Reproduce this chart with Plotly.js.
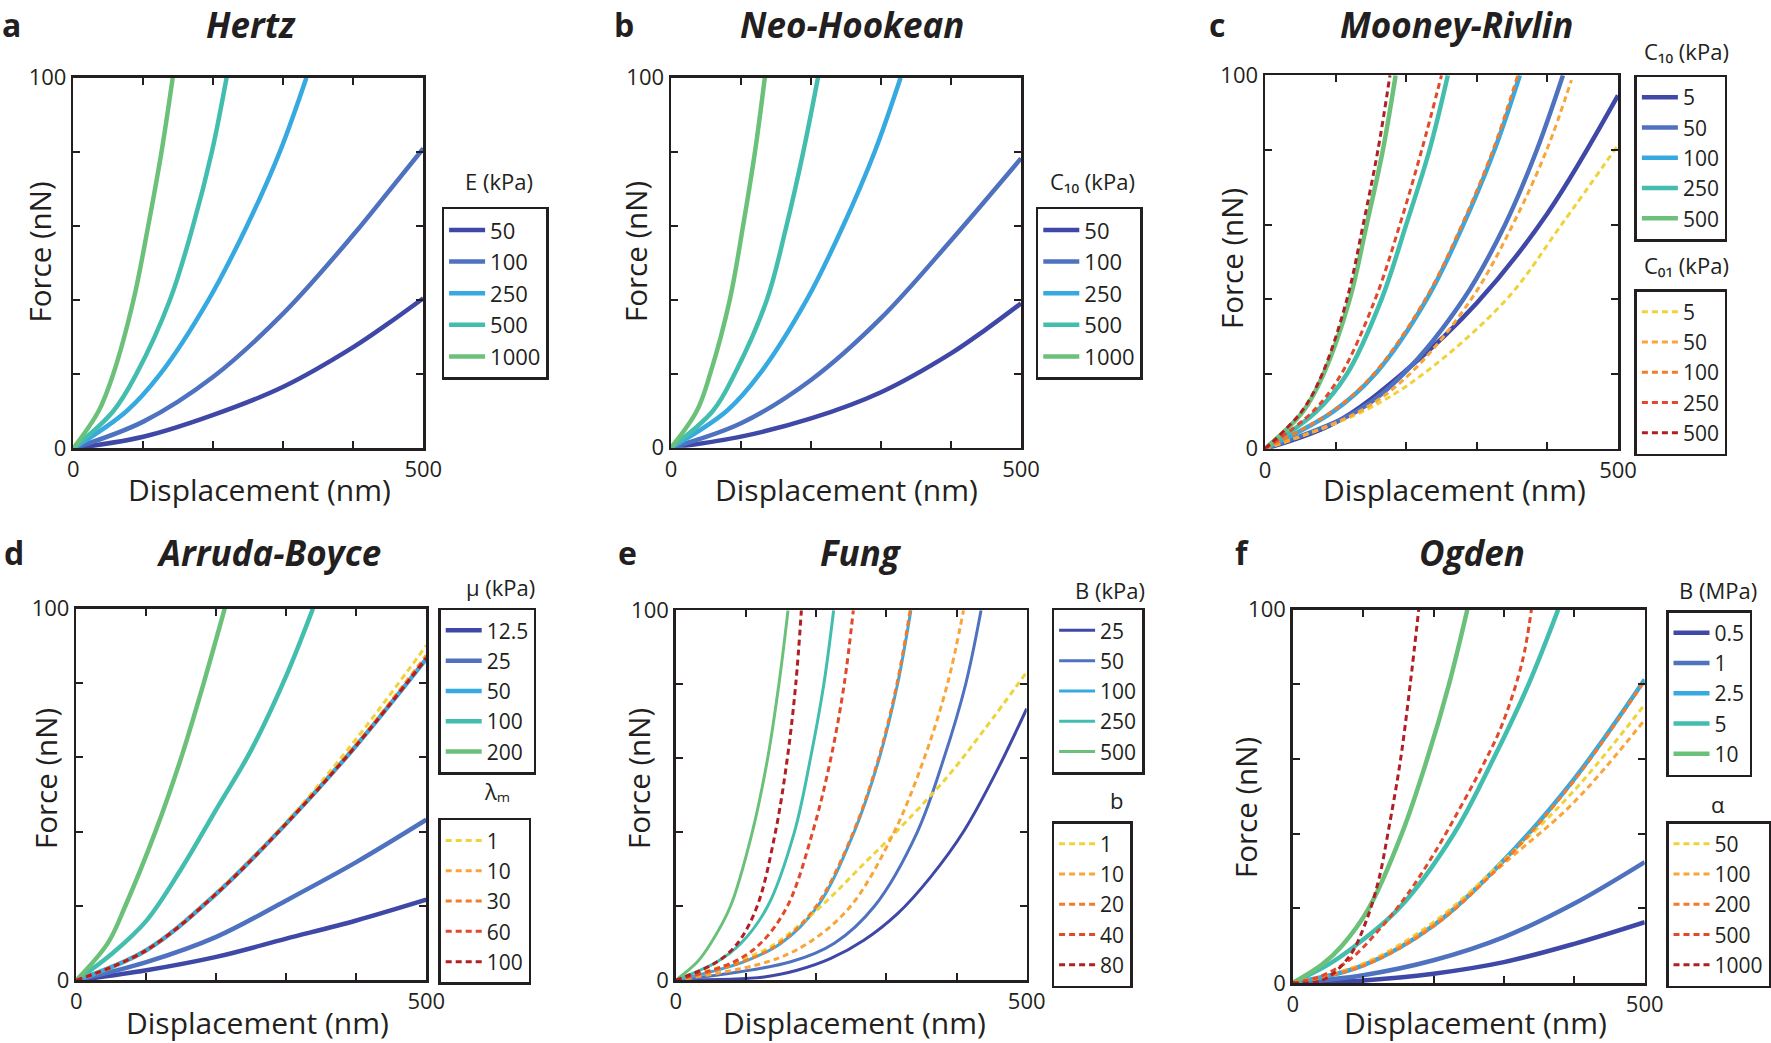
<!DOCTYPE html>
<html><head><meta charset="utf-8">
<script src="https://cdn.plot.ly/plotly-3.0.1.min.js"></script>
<style>html,body{margin:0;padding:0;background:#fff}</style>
</head><body>
<div id="chart" style="width:1771px;height:1043px"></div>
<script>
// ---------------- DATA ----------------
// a: Hertz
const hertzLabels = ['50','100','250','500','1000'];
const hertzX = [[0,100,200,300,400,450,500],[0,100,200,300,400,450,500],[0,76,124,193,248,295,333],[0,57,90,138,171,198,219],[0,36,57,86,107,126,142]];
const hertzY = [[0,3.1,9,16.6,27.3,33.7,40.5],[0,7.2,19.3,36.4,57.6,69.2,80.9],[0,10,20,40,60,80,100],[0,10,20,40,60,80,100],[0,10,20,40,60,80,100]];

// b: Neo-Hookean
const neoLabels = ['50','100','250','500','1000'];
const neoX = [[0,100,200,300,400,450,500],[0,100,200,300,400,450,500],[0,80,127,194,246,291,328],[0,60,91,137,165,189,210],[0,37,56,84,103,120,134]];
const neoY = [[0,3,7.9,15,25.5,32,39],[0,6.6,18.3,35,56,67,78.2],[0,10,20,40,60,80,100],[0,10,20,40,60,80,100],[0,10,20,40,60,80,100]];

// c: Mooney-Rivlin
const mrC10Labels = ['5','50','100','250','500'];
const mrC10X = [[0,100,200,300,400,500],[0,130,196,281,340,385,422],[0,97,156,229,281,325,361],[0,73,116,165,200,233,259],[0,54,83,120,144,167,185]];
const mrC10Y = [[0,7,21,39,63,94.6],[0,10,20,40,60,80,100],[0,10,20,40,60,80,100],[0,10,20,40,60,80,100],[0,10,20,40,60,80,100]];
const mrC01Labels = ['5','50','100','250','500'];
const mrC01X = [[0,139,224,342,420,500],[0,134,205,292,351,399,434],[0,95,154,227,279,323,358],[0,68,108,156,191,222,250],[0,52,81,116,139,160,177]];
const mrC01Y = [[0,10,20,40,60,81.3],[0,10,20,40,60,80,98.7],[0,10,20,40,60,80,100],[0,10,20,40,60,80,100],[0,10,20,40,60,80,100]];

// d: Arruda-Boyce
const abMuLabels = ['12.5','25','50','100','200'];
const abMuX = [[0,100,200,300,400,500],[0,100,200,300,400,500],[0,100,200,300,400,500],[0,50,100,150,200,250,300,338],[0,45,70,113,150,182,212]];
const abMuY = [[0,2.7,6.3,11.2,16.1,21.7],[0,4.9,11.7,21.5,31.8,43.2],[0,8.1,23.3,42.2,63.2,86.5],[0,7,16,30,46,62,82,100],[0,10,20,40,60,80,100]];
const abLmLabels = ['1','10','30','60','100'];
const abLmX = [[0,100,200,300,400,500],[0,100,200,300,400,500],[0,100,200,300,400,500],[0,100,200,300,400,500],[0,100,200,300,400,500]];
const abLmY = [[0,8.1,23.5,42.6,65,90.1],[0,8.1,23.3,42.3,63.5,87.5],[0,8.1,23.3,42.2,63.3,87],[0,8.1,23.3,42.2,63.2,86.8],[0,8.1,23.3,42.2,63.2,86.6]];

// e: Fung
const fungBLabels = ['25','50','100','250','500'];
const fungBX = [[0,126,173,221,268,316,363,411,458,500],[0,164,226,283,344,382,413,435],[0,97,150,202,254,290,316,335],[0,59,93,131,169,192,211,225],[0,31,50,78,109,131,147,160]];
const fungBY = [[0,0.9,2.7,5.9,10.8,18,27.9,40.5,56.8,73.4],[0,5,10,20,40,60,80,100],[0,5,10,20,40,60,80,100],[0,5,10,20,40,60,80,100],[0,5,10,20,40,60,80,100]];
const fungbLabels = ['1','10','20','40','80'];
const fungbX = [[0,126,173,221,268,316,387,439,500],[0,131,188,249,311,354,387,410],[0,95,148,200,253,289,315,334],[0,83,121,159,195,221,240,253],[0,59,88,116,142,159,171,179]];
const fungbY = [[0,8.1,14.4,22.5,31.5,40.5,55,67.6,83.3],[0,5,10,20,40,60,80,100],[0,5,10,20,40,60,80,100],[0,5,10,20,40,60,80,100],[0,5,10,20,40,60,80,100]];

// f: Ogden
const ogBLabels = ['0.5','1','2.5','5','10'];
const ogBX = [[0,100,200,300,400,500],[0,100,200,300,400,500],[0,100,200,300,400,500],[0,51,89,151,229,285,335,377],[0,42,70,108,155,191,222,248]];
const ogBY = [[0,0.7,2.5,5.6,10.5,16.3],[0,2.1,6.1,12.3,21.3,32.4],[0,4.7,15.4,32.9,54.7,81.3],[0,5,10,20,40,60,80,100],[0,5,10,20,40,60,80,100]];
const ogALabels = ['50','100','200','500','1000'];
const ogAX = [[0,100,200,300,400,500],[0,100,200,300,400,500],[0,100,200,300,400,500],[0,37,80,122,160,198,236,269,297,326,339],[0,42,80,103,122,136,153,167,179]];
const ogAY = [[0,5.2,16.3,32.9,51.6,74.6],[0,4.9,15.7,32,48.5,70.5],[0,4.6,15.2,32.5,54.3,81],[0,1.6,6.1,14.1,23,33.8,46.3,57.9,69,86,100],[0,0.7,7,15.9,27.5,40.9,59.6,80.2,100]];

const xTickVals = [0,500];
const xTickText = ['0','500'];
const yTickVals = [0,100];
const yTickText = ['0','100'];

// ---------------- STYLE / LAYOUT ----------------
const W = 1771, H = 1043;
const FONT = "'Open Sans', 'Noto Sans', sans-serif";
const INK = '#231F20';
const coolColors = ['#3F48A6','#4F72C0','#37A9E1','#43BEAE','#6CC17A'];
const warmColors = ['#EFD33A','#F9A53A','#F47B2A','#E2482A','#B11F24'];
const px = v => v / W;
const py = v => 1 - v / H;

const traces = [];
function addSet(ax, legendId, labels, xs, ys, colors, dashed, width) {
  labels.forEach((lab, i) => {
    traces.push({
      type: 'scatter', mode: 'lines',
      x: xs[i], y: ys[i], name: lab,
      xaxis: 'x' + (ax === 1 ? '' : ax), yaxis: 'y' + (ax === 1 ? '' : ax),
      legend: legendId,
      line: {color: colors[i], width: width, shape: 'spline', smoothing: 1, dash: dashed ? '6px,4px' : 'solid'},
      hoverinfo: 'skip'
    });
  });
}
addSet(1, 'legend', hertzLabels, hertzX, hertzY, coolColors, false, 4.5);
addSet(2, 'legend2', neoLabels, neoX, neoY, coolColors, false, 4.5);
addSet(3, 'legend3', mrC10Labels, mrC10X, mrC10Y, coolColors, false, 4.5);
addSet(3, 'legend4', mrC01Labels, mrC01X, mrC01Y, warmColors, true, 3);
addSet(4, 'legend5', abMuLabels, abMuX, abMuY, coolColors, false, 4.5);
addSet(4, 'legend6', abLmLabels, abLmX, abLmY, warmColors, true, 3);
addSet(5, 'legend7', fungBLabels, fungBX, fungBY, coolColors, false, 3);
addSet(5, 'legend8', fungbLabels, fungbX, fungbY, warmColors, true, 3);
addSet(6, 'legend9', ogBLabels, ogBX, ogBY, coolColors, false, 4.5);
addSet(6, 'legend10', ogALabels, ogAX, ogAY, warmColors, true, 3);

// plot boxes in pixels: [left, right, top, bottom]
const boxes = [
  [73.3, 423.3, 77.7, 448.3],
  [671, 1021, 77.7, 447.7],
  [1265, 1618, 75.3, 448.7],
  [76.3, 426.3, 608.7, 980.3],
  [675.7, 1026.7, 610.3, 980.3],
  [1292.7, 1644.7, 609.7, 983]
];

const layout = {
  width: W, height: H,
  margin: {l: 0, r: 0, t: 0, b: 0},
  paper_bgcolor: '#fff', plot_bgcolor: '#fff',
  font: {family: FONT, color: INK, size: 22},
  showlegend: true,
  annotations: []
};

const minorX = {dtick: 100, tick0: 0, ticks: 'inside', ticklen: 7, tickwidth: 2, tickcolor: INK, showgrid: false};
const minorY = {dtick: 20, tick0: 0, ticks: 'inside', ticklen: 7, tickwidth: 2, tickcolor: INK, showgrid: false};
boxes.forEach((b, i) => {
  const k = i === 0 ? '' : (i + 1);
  layout['xaxis' + k] = {
    domain: [px(b[0]), px(b[1])], anchor: 'y' + k, range: [0, 500],
    tickvals: xTickVals, ticktext: xTickText, ticks: 'inside', ticklen: 7, tickwidth: 2, tickcolor: INK,
    minor: minorX,
    showline: true, linewidth: 2.5, linecolor: INK, mirror: 'ticks',
    showgrid: false, zeroline: false, tickfont: {size: 22, family: FONT, color: INK}, fixedrange: true
  };
  layout['yaxis' + k] = {
    domain: [py(b[3]), py(b[2])], anchor: 'x' + k, range: [0, 100],
    tickvals: yTickVals, ticktext: yTickText, ticks: 'inside', ticklen: 7, tickwidth: 2, tickcolor: INK,
    minor: minorY,
    showline: true, linewidth: 2.5, linecolor: INK, mirror: 'ticks',
    showgrid: false, zeroline: false, tickfont: {size: 22, family: FONT, color: INK}, fixedrange: true
  };
});

// legends: [id, left, top, font size]
const legendPos = [
  ['legend', 441.6, 206.7, 22], ['legend2', 1035.8, 206.7, 22],
  ['legend3', 1634.4, 74.5, 21], ['legend4', 1634.4, 289, 21],
  ['legend5', 438.2, 607.7, 21], ['legend6', 438.2, 817.8, 21],
  ['legend7', 1051.6, 607.7, 21], ['legend8', 1051.6, 821, 21],
  ['legend9', 1666, 610, 21], ['legend10', 1666, 821, 21]
];
legendPos.forEach(([id, l, t, fs]) => {
  layout[id] = {
    x: px(l), y: py(t), xanchor: 'left', yanchor: 'top',
    xref: 'paper', yref: 'paper',
    bgcolor: '#fff', bordercolor: INK, borderwidth: 2.5,
    font: {size: fs, family: FONT, color: INK},
    traceorder: 'normal', itemwidth: 36, tracegroupgap: 0
  };
});

function ann(text, x, y, size, opts) {
  layout.annotations.push(Object.assign({
    text: text, xref: 'paper', yref: 'paper', x: px(x), y: py(y),
    xanchor: 'center', yanchor: 'middle', showarrow: false, borderpad: 0,
    font: {size: size, family: FONT, color: INK}
  }, opts || {}));
}
// panel letters
[['a',11,24],['b',624,24],['c',1217,24],['d',13.5,552],['e',627,552],['f',1242,552]]
  .forEach(([t,x,y]) => ann('<b>' + t + '</b>', x, y, 32));
// panel titles
[['Hertz',251,24],['Neo-Hookean',852,24],['Mooney-Rivlin',1456,24],['Arruda-Boyce',268,552],['Fung',861,552],['Ogden',1472,552]]
  .forEach(([t,x,y]) => ann('<b><i>' + t + '</i></b>', x, y, 35));
// axis titles
[[259,489],[846,489],[1454,489],[257,1022],[854,1022],[1475,1022]]
  .forEach(([x,y]) => ann('Displacement (nm)', x, y, 30));
[[39.5,252],[636,252],[1231,259],[45,779],[638,779],[1245,808]]
  .forEach(([x,y]) => ann('Force (nN)', x, y, 29.5, {textangle: -90}));
// legend titles
[['E (kPa)',499,181],['C₁₀ (kPa)',1092,181],['C₁₀ (kPa)',1686,51],['C₀₁ (kPa)',1686,265],
 ['μ (kPa)',500,587],['λₘ',497,791],['B (kPa)',1110,590],['b',1116,800],['B (MPa)',1718,590],['α',1718,804]]
  .forEach(([t,x,y]) => ann(t, x, y, 22));

Plotly.newPlot('chart', traces, layout, {staticPlot: true, displayModeBar: false});
</script>
</body></html>
